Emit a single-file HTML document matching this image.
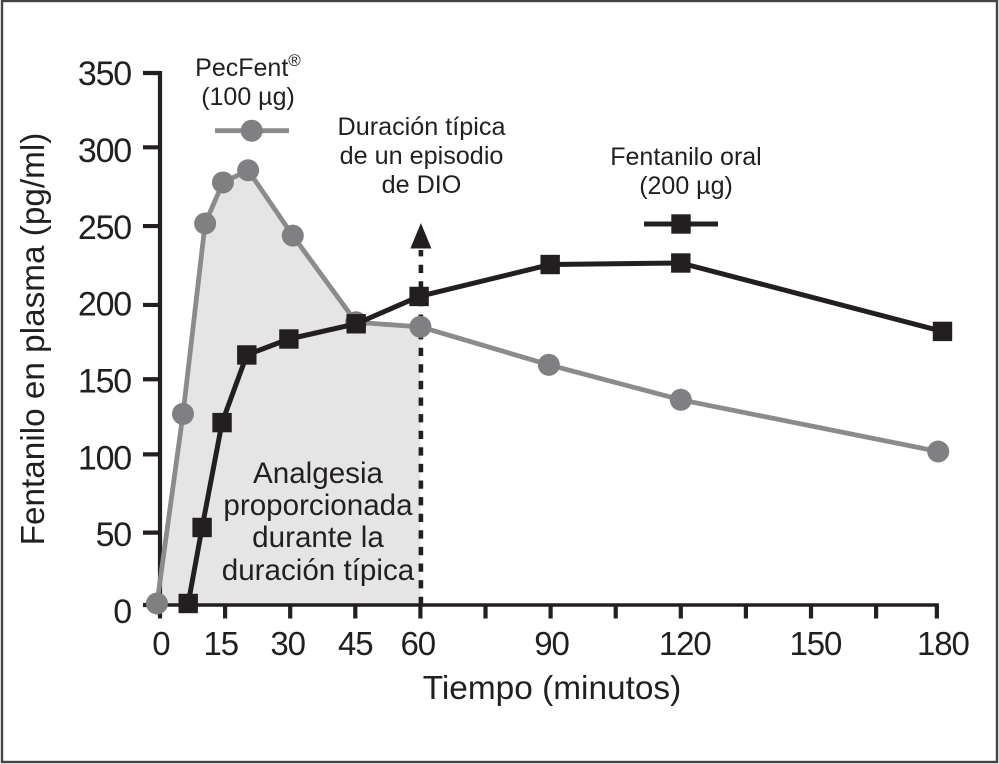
<!DOCTYPE html>
<html lang="es">
<head>
<meta charset="utf-8">
<title>Fentanilo en plasma</title>
<style>
html,body{margin:0;padding:0;background:#fff;}
#chart{display:block;width:999px;height:764px;font-family:"Liberation Sans",sans-serif;fill:#231f20;}
</style>
</head>
<body>
<svg id="chart" xmlns="http://www.w3.org/2000/svg" width="999" height="764" viewBox="0 0 999 764">
  <rect x="2" y="1" width="995" height="761" fill="#fff" stroke="#444" stroke-width="2.4"/>
  <g id="shade-layer"></g>
  <g id="guide-layer"></g>
  <g id="axis-layer"></g>
  <g id="series-layer"></g>
  <text transform="translate(44,339) rotate(-90)" text-anchor="middle" font-size="33.3">Fentanilo en plasma (pg/ml)</text>
  <text x="552" y="699" text-anchor="middle" font-size="33.4">Tiempo (minutos)</text>
  <g font-size="25" text-anchor="middle">
    <text x="248" y="76">PecFent<tspan font-size="17" dy="-10">®</tspan></text>
    <text x="248" y="105">(100 µg)</text>
  </g>
  <g font-size="25" text-anchor="middle">
    <text x="686" y="165">Fentanilo oral</text>
    <text x="686" y="194">(200 µg)</text>
  </g>
  <g font-size="25.2" text-anchor="middle">
    <text x="421.5" y="135">Duración típica</text>
    <text x="421.5" y="164">de un episodio</text>
    <text x="421.5" y="193">de DIO</text>
  </g>
  <g font-size="29.6" text-anchor="middle">
    <text x="318" y="483">Analgesia</text>
    <text x="318" y="515">proporcionada</text>
    <text x="318" y="547">durante la</text>
    <text x="318" y="580">duración típica</text>
  </g>
</svg>
<script>
const xTicks = [0, 15, 30, 45, 60, 75, 90, 105, 120, 135, 150, 165, 179];
const xLabelTimes = [0.2, 14, 29.4, 45, 59.4, 90.2, 120.9, 151, 180.4];
const xTickLabels = ["0", "15", "30", "45", "60", "90", "120", "150", "180"];
const yTicks = [0, 47.6, 99.1, 148.5, 197.4, 249.3, 301.1, 350];
const yLabelValues = [0, 50, 100, 150, 200, 250, 300, 350];
const pecfentTimes = [-0.7, 5.3, 10.4, 14.5, 20.3, 30.6, 45.2, 60, 89.6, 120, 179.3];
const pecfentValues = [1, 125.7, 251, 278, 286, 243, 186, 183, 158, 135, 101];
const oralTimes = [6.5, 9.7, 14.3, 20, 29.7, 45.2, 59.7, 89.9, 120, 180.3];
const oralValues = [1, 51, 120, 164.5, 175, 185, 203, 224, 225, 180];
const durationMarkerTime = 60;
const durationMarkerTop = 250;

const NS = 'http://www.w3.org/2000/svg';
const GREY_LINE = '#8b8b8d';
const GREY_MARK = '#808083';
const BLACK = '#231f20';
function xScale(v) { return 160 + v * 4.34; }
function yScale(v) { return 605 - v * 1.52; }
function yLabelBaseline(v) { return 623 - v * 1.537; }
function make(tag, parent, attrs) {
  const el = document.createElementNS(NS, tag);
  Object.keys(attrs).forEach(function (k) { el.setAttribute(k, attrs[k]); });
  parent.appendChild(el);
  return el;
}
function pointString(xs, ys) {
  return xs.map(function (t, i) { return xScale(t) + ',' + yScale(ys[i]); }).join(' ');
}

// Shaded analgesia area: under the PecFent curve up to the marker time
const shadeLayer = document.getElementById('shade-layer');
const shadeTimes = pecfentTimes.filter(function (t) { return t <= durationMarkerTime; });
const shadePts = pointString(shadeTimes, pecfentValues.slice(0, shadeTimes.length));
const shade = make('polygon', shadeLayer, {
  points: xScale(0) + ',' + yScale(0) + ' ' + shadePts + ' ' + xScale(durationMarkerTime) + ',' + yScale(0),
  fill: '#e5e5e6'
});



// Dashed guide and arrow
const guideLayer = document.getElementById('guide-layer');
const guideX = xScale(durationMarkerTime) + 0.5;
const guide = make('line', guideLayer, {
  x1: guideX, x2: guideX, y1: yScale(0), y2: durationMarkerTop,
  stroke: BLACK, 'stroke-width': 4.6, 'stroke-dasharray': '8.3 8.3'
});


const arrow = make('polygon', guideLayer, {
  points: guideX + ',223 ' + (guideX + 10.5) + ',248.5 ' + (guideX - 10.5) + ',248.5',
  fill: BLACK
});



// Axes
const axisLayer = document.getElementById('axis-layer');
const xAxisLine = make('line', axisLayer, {
  x1: 143, x2: xScale(xTicks[xTicks.length - 1]) + 2, y1: yScale(0), y2: yScale(0),
  stroke: BLACK, 'stroke-width': 3.6
});


const yAxisLine = make('line', axisLayer, {
  x1: 160, x2: 160, y1: yScale(0) + 2, y2: yScale(yTicks[yTicks.length - 1]) - 2,
  stroke: BLACK, 'stroke-width': 4.2
});



xTicks.forEach(function (t) {
  const x = xScale(t);
  const mark = make('line', axisLayer, {
    x1: x, x2: x, y1: yScale(0), y2: yScale(0) + 13.5,
    stroke: BLACK, 'stroke-width': 4.2
  });
  
  
});
xLabelTimes.forEach(function (t, i) {
  const label = make('text', axisLayer, {
    x: xScale(t), y: 655, 'text-anchor': 'middle', 'font-size': 33, 'letter-spacing': -1.1
  });
  label.textContent = xTickLabels[i];
  
  
});
yTicks.forEach(function (v) {
  const y = yScale(v);
  const mark = make('line', axisLayer, {
    x1: 143, x2: 160, y1: y, y2: y,
    stroke: BLACK, 'stroke-width': 4.2
  });
  
  
});
yLabelValues.forEach(function (v) {
  const label = make('text', axisLayer, {
    x: 131, y: yLabelBaseline(v), 'text-anchor': 'end', 'font-size': 34, 'letter-spacing': -1.2
  });
  label.textContent = String(v);
  
  
});

// Series
const seriesLayer = document.getElementById('series-layer');
const pecfentLine = make('polyline', seriesLayer, {
  points: pointString(pecfentTimes, pecfentValues),
  fill: 'none', stroke: GREY_LINE, 'stroke-width': 4.8, 'stroke-linejoin': 'round'
});


pecfentTimes.forEach(function (t, i) {
  const c = make('circle', seriesLayer, {
    cx: xScale(t), cy: yScale(pecfentValues[i]), r: 11, fill: GREY_MARK
  });
  
  
});
const oralLine = make('polyline', seriesLayer, {
  points: pointString(oralTimes, oralValues),
  fill: 'none', stroke: BLACK, 'stroke-width': 5, 'stroke-linejoin': 'round'
});


oralTimes.forEach(function (t, i) {
  const s = make('rect', seriesLayer, {
    x: xScale(t) - 9.7, y: yScale(oralValues[i]) - 9.7, width: 19.4, height: 19.4, fill: BLACK
  });
  
  
});

// Legend keys
const pecfentKeyLine = make('line', seriesLayer, {
  x1: 215, x2: 289, y1: 130.7, y2: 130.7, stroke: GREY_LINE, 'stroke-width': 4.8
});


const pecfentKeyMark = make('circle', seriesLayer, {
  cx: 251.7, cy: 130.7, r: 11, fill: GREY_MARK
});


const oralKeyLine = make('line', seriesLayer, {
  x1: 644, x2: 718, y1: 224, y2: 224, stroke: BLACK, 'stroke-width': 5
});


const oralKeyMark = make('rect', seriesLayer, {
  x: 671.3, y: 214.3, width: 19.4, height: 19.4, fill: BLACK
});


</script>
</body>
</html>
